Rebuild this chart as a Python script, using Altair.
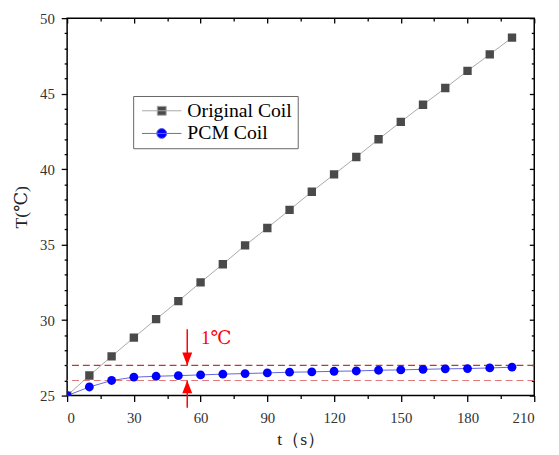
import altair as alt
import pandas as pd

# ---------------- data ----------------
t_values = [0, 10, 20, 30, 40, 50, 60, 70, 80, 90, 100,
            110, 120, 130, 140, 150, 160, 170, 180, 190, 200]
original_coil = [25.0, 26.33, 27.6, 28.84, 30.06, 31.26, 32.5, 33.7, 34.95, 36.1, 37.3,
                 38.5, 39.65, 40.8, 41.98, 43.13, 44.26, 45.37, 46.51, 47.6, 48.71]
pcm_coil = [25.0, 25.57, 26.0, 26.22, 26.28, 26.32, 26.37, 26.42, 26.46, 26.5, 26.55,
            26.57, 26.61, 26.63, 26.68, 26.7, 26.74, 26.77, 26.79, 26.83, 26.88]
series_names = ["Original Coil", "PCM Coil"]

x_ticks = [0, 30, 60, 90, 120, 150, 180, 210]
x_minor = [15, 45, 75, 105, 135, 165, 195]
y_ticks = [25, 30, 35, 40, 45, 50]
y_minor = [26, 27, 28, 29, 31, 32, 33, 34, 36, 37, 38, 39, 41, 42, 43, 44, 46, 47, 48, 49]

upper_level = [27.0]
lower_level = [26.0]
arrow_t = [54]
arrow_top = [29.4, 27.0]
arrow_bottom = [26.0, 24.2]
note_text = ["1℃"]
note_pos = [60.2, 28.8]

W, H = 474, 383
SERIF = "Times New Roman, Liberation Serif, DejaVu Serif, serif"

df = pd.DataFrame({
    "t": t_values * 2,
    "T": original_coil + pcm_coil,
    "series": [series_names[0]] * len(t_values) + [series_names[1]] * len(t_values),
})

xs = alt.Scale(domain=[0, 210], nice=False, zero=False)
ys = alt.Scale(domain=[25, 50], nice=False, zero=False)


def ax(values, size, labels=False, title=None, orient="bottom", offset=0, **kw):
    return alt.Axis(values=values, tickSize=size, labels=labels, title=title,
                    orient=orient, offset=offset, grid=False, domain=False,
                    tickColor="black", tickWidth=1.3, **kw)


label_style = dict(labelFont=SERIF, labelFontSize=15, labelColor="#333333",
                   titleFont=SERIF, titleFontSize=18, titleColor="#222222",
                   titleFontWeight="normal")

x_main = ax(x_ticks, 6, labels=True, title="t（s）", orient="bottom",
            labelPadding=9, titlePadding=6, **label_style)
y_main = ax(y_ticks, 6, labels=True, title="T(℃)", orient="left",
            labelPadding=7, titlePadding=9, **label_style)
x_bmin = ax(x_minor, 3, orient="bottom")
y_lmin = ax(y_minor, 3, orient="left")
x_top = ax(x_ticks, 5, orient="bottom", offset=-H)
x_tmin = ax(x_minor, 3, orient="bottom", offset=-H)
y_right = ax(y_ticks, 5, orient="left", offset=-W)
y_rmin = ax(y_minor, 3, orient="left", offset=-W)

base = alt.Chart(df)

orig_line = base.transform_filter(alt.datum.series == series_names[0]).mark_line(
    color="#a8a8a8", strokeWidth=1, clip=True).encode(
    x=alt.X("t:Q", scale=xs, axis=x_main),
    y=alt.Y("T:Q", scale=ys, axis=y_main))

orig_pts = base.transform_filter(alt.datum.series == series_names[0]).mark_point(
    shape="square", filled=True, color="#4a4a4a", size=72, opacity=1, clip=True).encode(
    x=alt.X("t:Q", scale=xs, axis=x_bmin),
    y=alt.Y("T:Q", scale=ys, axis=y_lmin))

pcm_line = base.transform_filter(alt.datum.series == series_names[1]).mark_line(
    color="#6464dc", strokeWidth=1, clip=True).encode(
    x=alt.X("t:Q", scale=xs, axis=x_top),
    y=alt.Y("T:Q", scale=ys, axis=y_right))

pcm_pts = base.transform_filter(alt.datum.series == series_names[1]).mark_point(
    shape="circle", filled=True, color="#0000ff", size=80, opacity=1, clip=True).encode(
    x=alt.X("t:Q", scale=xs, axis=x_tmin),
    y=alt.Y("T:Q", scale=ys, axis=y_rmin))

upper = alt.Chart(pd.DataFrame({"y": upper_level})).mark_rule(
    color="#c0392b", strokeDash=[7, 4], strokeWidth=1.2).encode(
    y=alt.Y("y:Q", scale=ys, axis=None))
lower = alt.Chart(pd.DataFrame({"y": lower_level})).mark_rule(
    color="#e07a7a", strokeDash=[7, 4], strokeWidth=1.2).encode(
    y=alt.Y("y:Q", scale=ys, axis=None))

arrows = pd.DataFrame({"t": arrow_t * 2,
                       "y1": [arrow_top[0], arrow_bottom[1]],
                       "y2": [arrow_top[1], arrow_bottom[0]]})
arrow_lines = alt.Chart(arrows).mark_rule(color="#ff0000", strokeWidth=1.5).encode(
    x=alt.X("t:Q", scale=xs, axis=None),
    y=alt.Y("y1:Q", scale=ys, axis=None), y2="y2:Q")

head_down = alt.Chart(pd.DataFrame({"t": arrow_t, "y": [arrow_top[1]]})).mark_point(
    shape="M-0.77,-2 L0.77,-2 L0,0 Z", filled=True, color="#ff0000", size=169, opacity=1).encode(
    x=alt.X("t:Q", scale=xs, axis=None), y=alt.Y("y:Q", scale=ys, axis=None))
head_up = alt.Chart(pd.DataFrame({"t": arrow_t, "y": [arrow_bottom[0]]})).mark_point(
    shape="M-0.77,2 L0.77,2 L0,0 Z", filled=True, color="#ff0000", size=169, opacity=1).encode(
    x=alt.X("t:Q", scale=xs, axis=None), y=alt.Y("y:Q", scale=ys, axis=None))

note = alt.Chart(pd.DataFrame({"t": [note_pos[0]], "y": [note_pos[1]], "txt": note_text})).mark_text(
    align="left", baseline="middle", color="#ff0000", fontSize=19, font=SERIF).encode(
    x=alt.X("t:Q", scale=xs, axis=None), y=alt.Y("y:Q", scale=ys, axis=None), text="txt:N")

legend_paths = [
    "M-4,0 L4,0 M-0.9,-0.9 L0.9,-0.9 L0.9,0.9 L-0.9,0.9 Z",
    "M-4,0 L4,0 M-1,0 A1,1 0 1,1 1,0 A1,1 0 1,1 -1,0 Z",
]
leg = alt.Legend(orient="none", legendX=67, legendY=79, title=None,
                 labelFont=SERIF, labelFontSize=20, labelColor="black",
                 strokeColor="#666666", fillColor="white", padding=5,
                 symbolSize=100, symbolStrokeWidth=1, symbolOffset=14,
                 labelOffset=16, rowPadding=3, symbolOpacity=1)
legend_layer = base.mark_point(filled=True, opacity=0, size=100).encode(
    x=alt.X("t:Q", scale=xs, axis=None),
    y=alt.Y("T:Q", scale=ys, axis=None),
    shape=alt.Shape("series:N", scale=alt.Scale(domain=series_names, range=legend_paths), legend=leg),
    fill=alt.Fill("series:N", scale=alt.Scale(domain=series_names, range=["#4a4a4a", "#0000ff"]), legend=leg),
    stroke=alt.Stroke("series:N", scale=alt.Scale(domain=series_names, range=["#a8a8a8", "#6464dc"]), legend=leg),
)

chart = alt.layer(
    upper, lower, orig_line, pcm_line, orig_pts, pcm_pts,
    arrow_lines, head_down, head_up, note, legend_layer
).resolve_axis(x="independent", y="independent").properties(
    width=W, height=H, autosize="none",
    padding={"left": 60, "top": 7, "right": 17, "bottom": 57},
    background="white",
).configure_view(stroke="black", strokeWidth=1.5).configure_axis(
    labelFont=SERIF, titleFont=SERIF
).configure_text(font=SERIF).configure_legend(labelFont=SERIF)

chart.save("out.html", embed_options={"renderer": "svg", "actions": False})
